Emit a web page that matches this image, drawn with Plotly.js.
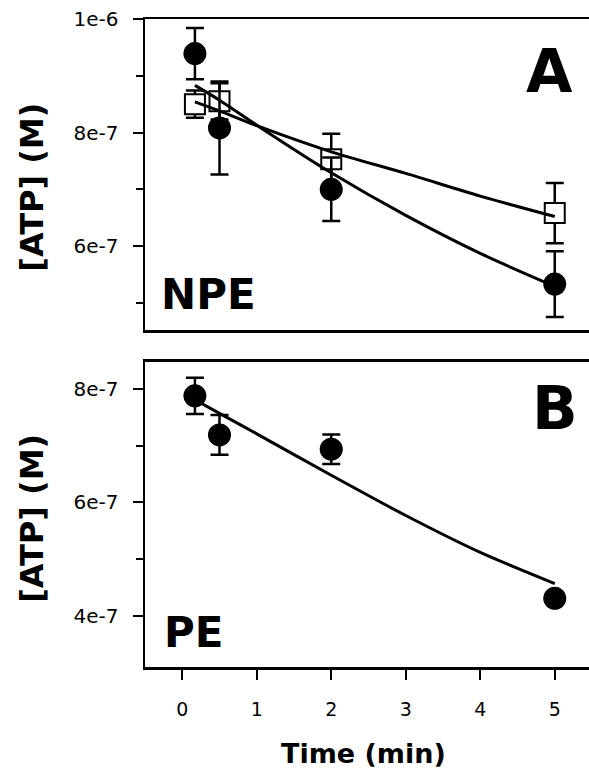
<!DOCTYPE html>
<html>
<head>
<meta charset="utf-8">
<script src="https://cdn.plot.ly/plotly-3.0.1.min.js"></script>
<style>html,body{margin:0;padding:0;background:#fff;overflow:hidden;}</style>
</head>
<body>
<div id="chart" style="width:592px;height:772px;"></div>
<script>
// ---- Panel A (NPE) ----
var timeA = [0.17, 0.5, 2, 5];
var npeCircle = [9.39e-7, 8.08e-7, 7.00e-7, 5.33e-7];
var npeCircleErr = [0.45e-7, 0.82e-7, 0.56e-7, 0.58e-7];
var npeSquare = [8.50e-7, 8.55e-7, 7.53e-7, 6.58e-7];
var npeSquareErr = [0.24e-7, 0.32e-7, 0.45e-7, 0.53e-7];
var fitTime = [0.17, 0.5, 1, 2, 3, 4, 5];
var npeCircleFit = [8.83e-7, 8.57e-7, 8.13e-7, 7.29e-7, 6.54e-7, 5.87e-7, 5.29e-7];
var npeSquareFit = [8.54e-7, 8.38e-7, 8.12e-7, 7.66e-7, 7.28e-7, 6.88e-7, 6.52e-7];

// ---- Panel B (PE) ----
var timeB = [0.17, 0.5, 2, 5];
var peCircle = [7.88e-7, 7.19e-7, 6.94e-7, 4.31e-7];
var peCircleErr = [0.32e-7, 0.35e-7, 0.26e-7, 0.10e-7];
var peCircleFit = [7.81e-7, 7.57e-7, 7.21e-7, 6.48e-7, 5.77e-7, 5.12e-7, 4.57e-7];

// ---- Ticks ----
var xTickVals = [0, 1, 2, 3, 4, 5];
var xTickText = ['0', '1', '2', '3', '4', '5'];
var yATickVals = [6e-7, 8e-7, 1e-6];
var yATickText = ['6e-7', '8e-7', '1e-6'];
var yAMinor = [5e-7, 7e-7, 9e-7];
var yBTickVals = [4e-7, 6e-7, 8e-7];
var yBTickText = ['4e-7', '6e-7', '8e-7'];
var yBMinor = [5e-7, 7e-7];

var blk = '#000';
function errY(arr){ return {type:'data', array:arr, visible:true, color:blk, thickness:2.5, width:9}; }
var circleMarker = {symbol:'circle', size:23, color:blk, line:{color:blk, width:0}};
var squareMarker = {symbol:'square', size:20, color:'#fff', line:{color:blk, width:2}};
var fitLine = {color:blk, width:3, shape:'spline', smoothing:0.8};

var traces = [
  {x:timeA, y:npeSquare, error_y:errY(npeSquareErr), mode:'markers', marker:squareMarker, xaxis:'x', yaxis:'y', cliponaxis:false},
  {x:timeA, y:npeCircle, error_y:errY(npeCircleErr), mode:'markers', marker:circleMarker, xaxis:'x', yaxis:'y', cliponaxis:false},
  {x:fitTime, y:npeCircleFit, mode:'lines', line:fitLine, xaxis:'x', yaxis:'y'},
  {x:fitTime, y:npeSquareFit, mode:'lines', line:fitLine, xaxis:'x', yaxis:'y'},
  {x:timeB, y:peCircle, error_y:errY(peCircleErr), mode:'markers', marker:circleMarker, xaxis:'x2', yaxis:'y2', cliponaxis:false},
  {x:fitTime, y:peCircleFit, mode:'lines', line:fitLine, xaxis:'x2', yaxis:'y2'}
];

var tickFont = {family:'DejaVu Sans, Arial, sans-serif', size:20, color:blk};
var axisCommon = {showline:true, linecolor:blk, linewidth:2.5, mirror:true, showgrid:false, zeroline:false, tickcolor:blk, tickwidth:2};

var layout = {
  width:592, height:772,
  margin:{l:145, r:0, t:19, b:105},
  paper_bgcolor:'#fff', plot_bgcolor:'#fff',
  showlegend:false,
  xaxis: Object.assign({}, axisCommon, {domain:[0,1], range:[-0.5,5.5], anchor:'y', ticks:'', showticklabels:false}),
  yaxis: Object.assign({}, axisCommon, {domain:[0.520,1], range:[4.52e-7,1e-6], anchor:'x',
    tickmode:'array', tickvals:yATickVals, ticktext:yATickText, ticks:'outside', ticklen:10,
    tickfont:tickFont, ticklabelstandoff:10,
    minor:{tickmode:'array', tickvals:yAMinor, ticks:'outside', ticklen:7, tickcolor:blk, tickwidth:2}}),
  xaxis2: Object.assign({}, axisCommon, {domain:[0,1], range:[-0.5,5.5], anchor:'y2',
    tickmode:'array', tickvals:xTickVals, ticktext:xTickText, ticks:'outside', ticklen:10,
    tickfont:{family:'DejaVu Sans, Arial, sans-serif', size:19, color:blk}, ticklabelstandoff:14}),
  yaxis2: Object.assign({}, axisCommon, {domain:[0,0.4707], range:[3.1e-7,8.476e-7], anchor:'x2',
    tickmode:'array', tickvals:yBTickVals, ticktext:yBTickText, ticks:'outside', ticklen:10,
    tickfont:tickFont, ticklabelstandoff:10,
    minor:{tickmode:'array', tickvals:yBMinor, ticks:'outside', ticklen:7, tickcolor:blk, tickwidth:2}}),
  annotations:[
    {text:'<b>A</b>', xref:'paper', yref:'paper', x:0.905, y:0.9205, xanchor:'center', yanchor:'middle', showarrow:false,
     font:{family:'DejaVu Sans, Arial, sans-serif', size:60, color:blk}},
    {text:'<b>B</b>', xref:'paper', yref:'paper', x:0.917, y:0.399, xanchor:'center', yanchor:'middle', showarrow:false,
     font:{family:'DejaVu Sans, Arial, sans-serif', size:60, color:blk}},
    {text:'<b>NPE</b>', xref:'paper', yref:'paper', x:0.032, y:0.575, xanchor:'left', yanchor:'middle', showarrow:false,
     font:{family:'DejaVu Sans, Arial, sans-serif', size:42, color:blk}},
    {text:'<b>PE</b>', xref:'paper', yref:'paper', x:0.038, y:0.054, xanchor:'left', yanchor:'middle', showarrow:false,
     font:{family:'DejaVu Sans, Arial, sans-serif', size:42, color:blk}},
    {text:'<b>[ATP] (M)</b>', xref:'paper', yref:'paper', x:-0.253, y:0.741, xanchor:'center', yanchor:'middle', textangle:-90, showarrow:false,
     font:{family:'DejaVu Sans, Arial, sans-serif', size:32, color:blk}},
    {text:'<b>[ATP] (M)</b>', xref:'paper', yref:'paper', x:-0.253, y:0.23, xanchor:'center', yanchor:'middle', textangle:-90, showarrow:false,
     font:{family:'DejaVu Sans, Arial, sans-serif', size:32, color:blk}},
    {text:'<b>Time (min)</b>', xref:'paper', yref:'paper', x:0.488, y:-0.133, xanchor:'center', yanchor:'middle', showarrow:false,
     font:{family:'DejaVu Sans, Arial, sans-serif', size:27, color:blk}}
  ]
};

Plotly.newPlot('chart', traces, layout, {staticPlot:true, displayModeBar:false});
</script>
</body>
</html>
